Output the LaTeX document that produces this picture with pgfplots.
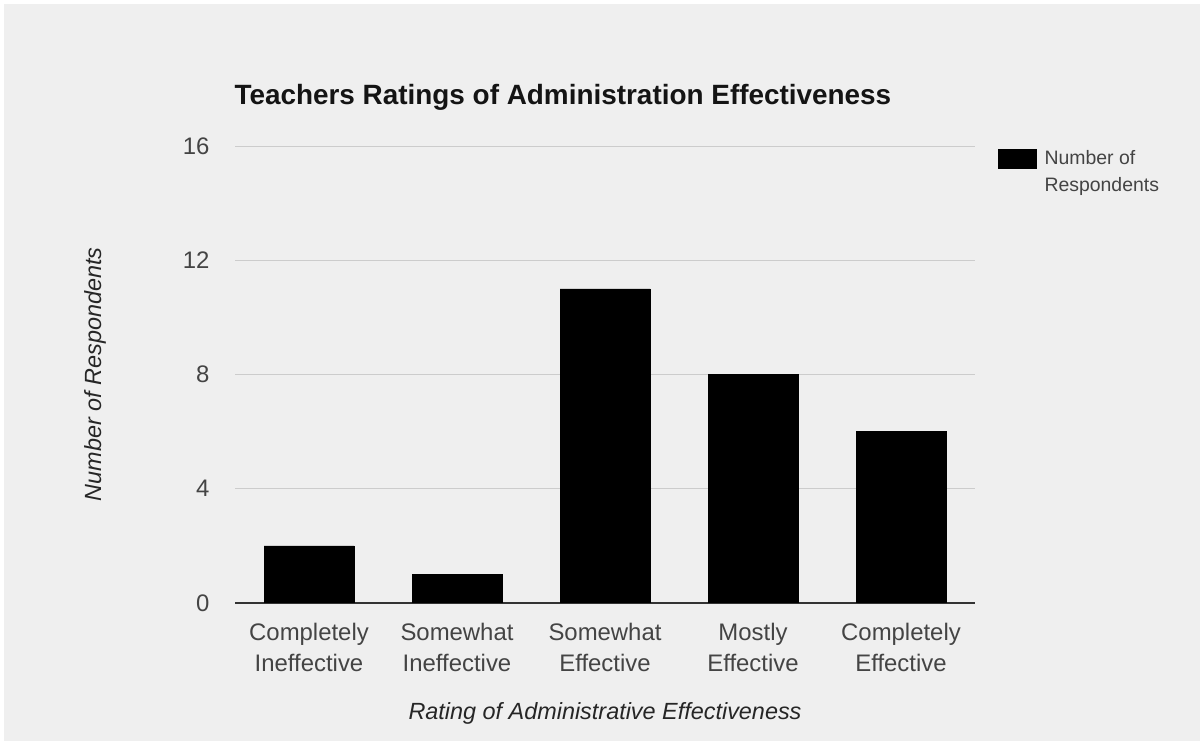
\documentclass[border=0pt]{standalone}
\usepackage{fontspec}
\setmainfont{Liberation Sans}
\usepackage{pgfplots}
\pgfplotsset{compat=1.18}
\definecolor{bggray}{HTML}{EFEFEF}
\definecolor{gridgray}{HTML}{CCCCCC}
\definecolor{ticktext}{HTML}{444444}
\definecolor{axisline}{HTML}{333333}

\begin{document}
\begin{tikzpicture}
% canvas 1200 x 741 bp, light gray with thin white strip on top and left
\fill[white] (0bp,0bp) rectangle (1200bp,741bp);
\fill[bggray] (4bp,0bp) rectangle (1200bp,737bp);

\begin{axis}[
    at={(235bp,138bp)},
    anchor=south west,
    scale only axis,
    width=740bp,
    height=457bp,
    ybar,
    bar width=90bp,
    xmin=-0.5, xmax=4.5,
    ymin=0, ymax=16,
    xtick=data,
    xticklabels={Completely\\Ineffective, Somewhat\\Ineffective, Somewhat\\Effective, Mostly\\Effective, Completely\\Effective},
    ytick={0,4,8,12,16},
    axis x line*=bottom,
    axis y line*=left,
    x axis line style={axisline, line width=1.2pt, -},
    y axis line style={draw=none},
    major tick length=0pt,
    ymajorgrids,
    grid style={gridgray, line width=0.9pt},
    /pgf/number format/assume math mode=true,
    xticklabel style={font=\fontsize{24}{31}\selectfont, text=ticktext, align=center, yshift=-17bp},
    yticklabel style={font=\fontsize{24}{31}\selectfont, text=ticktext, xshift=-22bp},
    ylabel={Number of Respondents},
    xlabel={Rating of Administrative Effectiveness},
    xlabel style={font=\fontsize{23.5}{28}\selectfont\itshape, text=black!85, at={(axis description cs:0.5,-0.2410)}, anchor=center},
    ylabel style={font=\fontsize{23.5}{28}\selectfont\itshape, text=black!85, at={(axis description cs:-0.189,0.5)}, anchor=center},
    legend style={at={(1.031,0.995)}, anchor=north west, draw=none, fill=none,
        font=\fontsize{19.5}{27}\selectfont, text=ticktext,
        nodes={align=left}, inner sep=0pt, column sep=6bp},
    legend image code/.code={\fill[black] (0bp,4bp) rectangle (38bp,23bp);},
]
\addplot[fill=black, draw=black] coordinates {(0,2) (1,1) (2,11) (3,8) (4,6)};
\addlegendentry{Number of\\Respondents}
\end{axis}

\node[anchor=base west, font=\fontsize{28}{32}\selectfont\bfseries, text=black!92] at (231bp,{741bp-105bp}) {Teachers Ratings of Administration Effectiveness};
\end{tikzpicture}
\end{document}
